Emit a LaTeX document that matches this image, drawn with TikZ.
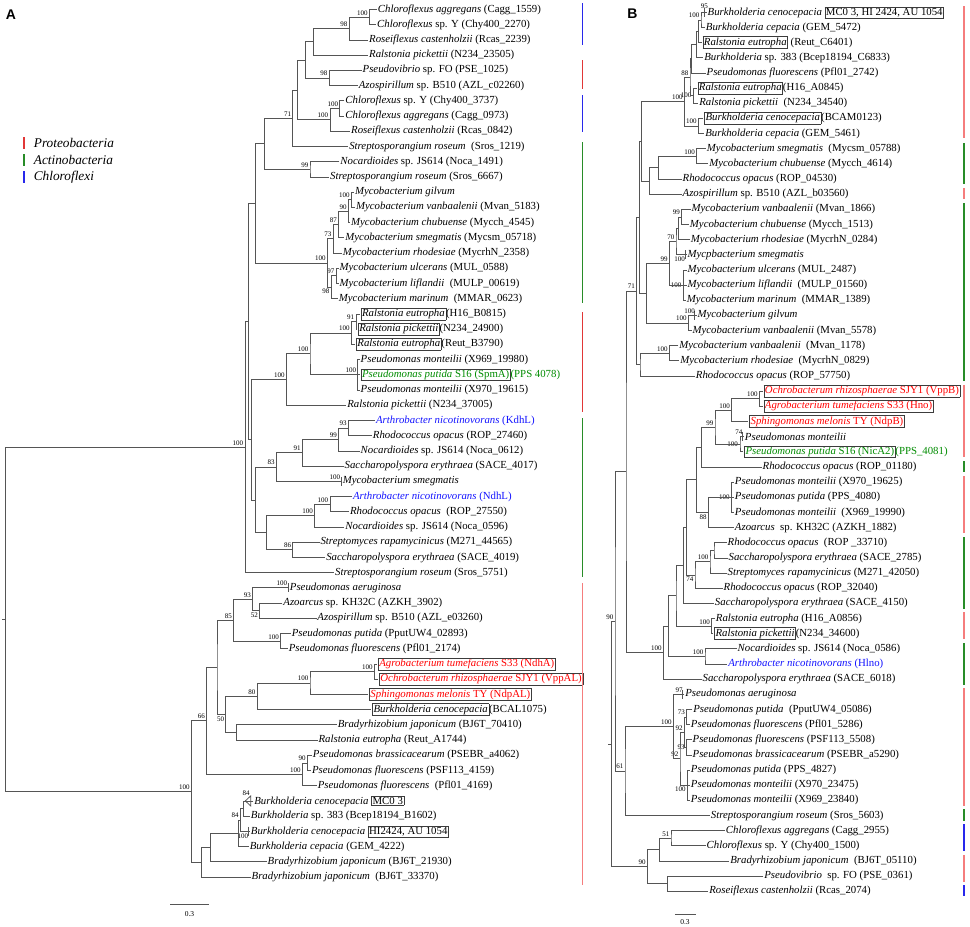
\documentclass[tikz,border=0pt]{standalone}
\usepackage{fontspec}
\setmainfont{Liberation Serif}
\newfontfamily\hdfont{Liberation Sans}
\usetikzlibrary{calc}
\definecolor{brc}{RGB}{85,85,85}
\definecolor{redbar}{RGB}{225,55,55}
\definecolor{pinkbar}{RGB}{245,125,125}
\definecolor{greenbar}{RGB}{40,140,40}
\definecolor{bluebar}{RGB}{40,40,235}
\definecolor{redtxt}{RGB}{255,0,0}
\definecolor{bluetxt}{RGB}{20,20,255}
\definecolor{greentxt}{RGB}{0,140,0}
\definecolor{boxc}{RGB}{60,60,60}
\setlength\fboxsep{0.8pt}
\setlength\fboxrule{0.5pt}
\newcommand\I[1]{\textit{#1}}
\newcommand\bx[1]{\fcolorbox{boxc}{white}{#1}}
\tikzset{
  br/.style={draw=brc, line width=0.75pt},
  lf/.style={anchor=west, inner sep=0.8pt, font=\fontsize{10.8}{12}\selectfont},
  bsl/.style={font=\fontsize{7}{8}\selectfont, inner sep=0.3pt},
  bsa/.style={anchor=south east, xshift=-1.2pt, yshift=1.5pt},
  bsbel/.style={anchor=north east, xshift=-1.2pt, yshift=-1.5pt},
  bsw/.style={anchor=east, xshift=-1.5pt},
  cbar/.style={line width=1.8pt},
  legt/.style={anchor=west, font=\fontsize{13.3}{14}\selectfont\itshape, inner sep=0pt},
}
% leaf of tree A: [style]{index}{x}{text}
\newcommand\lfA[4][]{\coordinate (a#2) at (#3,{9.5+15.22*(#2-1)}); \node[lf,#1] (ta#2) at (a#2) {#4};}
% leaf of tree B
\newcommand\lfB[4][]{\coordinate (b#2) at ({1770+#3},{12.3+15.155*(#2-1)}); \node[lf,#1] (tb#2) at (b#2) {#4};}
% inner node with two children
\newcommand\nd[4]{\path let \p1=(#3),\p2=(#4),\p3=(#2,0) in coordinate (#1) at (\x3,{0.5*(\y1+\y2)});
  \draw[br] (#3) -| (#1) |- (#4);}
% inner node with three children
\newcommand\ndt[5]{\path let \p1=(#4),\p3=(#2,0) in coordinate (#1) at (\x3,\y1);
  \draw[br] (#3) -| (#1) |- (#5); \draw[br] (#1) -- (#4);}
\newcommand\bs[3][bsa]{\node[bsl,#1] at (#2) {#3};}
\newcommand\tk[2]{\draw[br] ([xshift=#2pt,yshift=4.5pt]#1) -- ([xshift=#2pt,yshift=-4.5pt]#1);}
\begin{document}
\begin{tikzpicture}[x=1pt,y=-1pt]
\useasboundingbox (0,0) rectangle (970,927);
\fill[white] (0,0) rectangle (970,927);
\node[font=\hdfont\bfseries\fontsize{14}{14}\selectfont, inner sep=0pt] (labA) at (10.9,14.3) {A};
\node[font=\hdfont\bfseries\fontsize{14}{14}\selectfont, inner sep=0pt] (labB) at (632.5,13.3) {B};
%================ TREE A =================
\begin{scope}[x=0.3827pt]
\lfA{1}{985}{\I{Chloroflexus aggregans} (Cagg\_1559)}
\lfA{2}{983}{\I{Chloroflexus} sp. Y (Chy400\_2270)}
\lfA{3}{962}{\I{Roseiflexus castenholzii} (Rcas\_2239)}
\lfA{4}{962}{\I{Ralstonia pickettii} (N234\_23505)}
\lfA{5}{945}{\I{Pseudovibrio} sp. FO (PSE\_1025)}
\lfA{6}{935}{\I{Azospirillum} sp. B510 (AZL\_c02260)}
\lfA{7}{900}{\I{Chloroflexus} sp. Y (Chy400\_3737)}
\lfA{8}{900}{\I{Chloroflexus aggregans} (Cagg\_0973)}
\lfA{9}{915}{\I{Roseiflexus castenholzii} (Rcas\_0842)}
\lfA{10}{910}{\I{Streptosporangium roseum}\ \ (Sros\_1219)}
\lfA{11}{887}{\I{Nocardioides} sp. JS614 (Noca\_1491)}
\lfA{12}{860}{\I{Streptosporangium roseum} (Sros\_6667)}
\lfA{13}{925}{\I{Mycobacterium gilvum}}
\lfA{14}{928}{\I{Mycobacterium vanbaalenii} (Mvan\_5183)}
\lfA{15}{915}{\I{Mycobacterium chubuense} (Mycch\_4545)}
\lfA{16}{900}{\I{Mycobacterium smegmatis} (Mycsm\_05718)}
\lfA{17}{893}{\I{Mycobacterium rhodesiae} (MycrhN\_2358)}
\lfA{18}{885}{\I{Mycobacterium ulcerans} (MUL\_0588)}
\lfA{19}{885}{\I{Mycobacterium liflandii}\ \ (MULP\_00619)}
\lfA{20}{883}{\I{Mycobacterium marinum}\ \ (MMAR\_0623)}
\lfA{21}{940}{\bx{\I{Ralstonia eutropha}}(H16\_B0815)}
\lfA{22}{933}{\bx{\I{Ralstonia pickettii}}(N234\_24900)}
\lfA{23}{928}{\bx{\I{Ralstonia eutropha}}(Reut\_B3790)}
\lfA{24}{940}{\I{Pseudomonas monteilii} (X969\_19980)}
\lfA[text=greentxt]{25}{940}{\bx{\I{Pseudomonas putida} S16 (SpmA)}(PPS 4078)}
\lfA{26}{940}{\I{Pseudomonas monteilii} (X970\_19615)}
\lfA{27}{905}{\I{Ralstonia pickettii} (N234\_37005)}
\lfA[text=bluetxt]{28}{980}{\I{Arthrobacter nicotinovorans} (KdhL)}
\lfA{29}{972}{\I{Rhodococcus opacus} (ROP\_27460)}
\lfA{30}{940}{\I{Nocardioides} sp. JS614 (Noca\_0612)}
\lfA{31}{898}{\I{Saccharopolyspora erythraea} (SACE\_4017)}
\lfA{32}{893}{\I{Mycobacterium smegmatis}}
\lfA[text=bluetxt]{33}{920}{\I{Arthrobacter nicotinovorans} (NdhL)}
\lfA{34}{912}{\I{Rhodococcus opacus}\ \ (ROP\_27550)}
\lfA{35}{900}{\I{Nocardioides} sp. JS614 (Noca\_0596)}
\lfA{36}{835}{\I{Streptomyces rapamycinicus} (M271\_44565)}
\lfA{37}{850}{\I{Saccharopolyspora erythraea} (SACE\_4019)}
\lfA{38}{873}{\I{Streptosporangium roseum} (Sros\_5751)}
\lfA{39}{755}{\I{Pseudomonas aeruginosa}}
\lfA{40}{738}{\I{Azoarcus} sp. KH32C (AZKH\_3902)}
\lfA{41}{827}{\I{Azospirillum} sp. B510 (AZL\_e03260)}
\lfA{42}{760}{\I{Pseudomonas putida} (PputUW4\_02893)}
\lfA{43}{752}{\I{Pseudomonas fluorescens} (Pfl01\_2174)}
\lfA[text=redtxt]{44}{985}{\bx{\I{Agrobacterium tumefaciens} S33 (NdhA)}}
\lfA[text=redtxt]{45}{988}{\bx{\I{Ochrobacterum rhizosphaerae} SJY1 (VppAL)}}
\lfA[text=redtxt]{46}{962}{\bx{\I{Sphingomonas melonis} TY (NdpAL)}}
\lfA{47}{970}{\bx{\I{Burkholderia cenocepacia}}(BCAL1075)}
\lfA{48}{880}{\I{Bradyrhizobium japonicum} (BJ6T\_70410)}
\lfA{49}{830}{\I{Ralstonia eutropha} (Reut\_A1744)}
\lfA{50}{815}{\I{Pseudomonas brassicacearum} (PSEBR\_a4062)}
\lfA{51}{813}{\I{Pseudomonas fluorescens} (PSF113\_4159)}
\lfA{52}{828}{\I{Pseudomonas fluorescens}\ \ (Pfl01\_4169)}
\lfA{53}{662}{\I{Burkholderia cenocepacia} \bx{MC0 3}}
\lfA{54}{653}{\I{Burkholderia} sp. 383 (Bcep18194\_B1602)}
\lfA{55}{653}{\I{Burkholderia cenocepacia} \bx{HI2424, AU 1054}}
\lfA{56}{650}{\I{Burkholderia cepacia} (GEM\_4222)}
\lfA{57}{697}{\I{Bradyrhizobium japonicum} (BJ6T\_21930)}
\lfA{58}{655}{\I{Bradyrhizobium japonicum}\ \ (BJ6T\_33370)}
% inner nodes
\nd{aC1}{965}{a1}{a2} \bs{aC1}{100}
\nd{aC2}{912}{aC1}{a3} \bs{aC2}{98}
\nd{aC3}{820}{aC2}{a4}
\nd{aC4}{860}{a5}{a6} \bs{aC4}{98}
\nd{aC5}{797}{aC3}{aC4}
\nd{aC6}{888}{a7}{a8} \bs{aC6}{100}
\nd{aC7}{862}{aC6}{a9} \bs{aC7}{100}
\nd{aC8}{777}{aC5}{aC7}
\nd{aC9}{765}{aC8}{a10} \bs{aC9}{71}
\nd{aC11}{810}{a11}{a12} \bs{aC11}{99}
\nd{aC10}{690}{aC9}{aC11}
\nd{aM1}{918}{a13}{a14} \bs{aM1}{100}
\nd{aM2}{910}{aM1}{a15} \bs{aM2}{90}
\nd{aM3}{885}{aM2}{a16} \bs{aM3}{87}
\nd{aM4}{870}{aM3}{a17} \bs{aM4}{73}
\nd{aM5}{878}{a18}{a19} \bs{aM5}{97}
\nd{aM6}{865}{aM5}{a20} \bs[bsbel]{aM6}{98}
\nd{aM7}{855}{aM4}{aM6} \bs{aM7}{100}
\nd{aT}{668}{aC10}{aM7}
\nd{aR1}{930}{a21}{a22} \bs{aR1}{91}
\nd{aR2}{918}{aR1}{a23} \bs{aR2}{100}
\ndt{aP1}{935}{a24}{a25}{a26} \bs{aP1}{100}
\nd{aR3}{810}{aR2}{aP1} \bs{aR3}{100}
\nd{aR4}{748}{aR3}{a27} \bs{aR4}{100}
\nd{aA1}{910}{a28}{a29} \bs{aA1}{93}
\nd{aA2}{885}{aA1}{a30} \bs{aA2}{99}
\nd{aA3}{790}{aA2}{a31} \bs{aA3}{91}
\tk{a32}{-0.8} \bs{a32}{100}
\nd{aA4}{722}{aA3}{a32} \bs{aA4}{83}
\nd{aA5}{862}{a33}{a34} \bs{aA5}{100}
\nd{aA6}{822}{aA5}{a35} \bs{aA6}{100}
\nd{aA7}{765}{a36}{a37} \bs{aA7}{86}
\nd{aA8}{697}{aA6}{aA7}
\nd{aZ}{668}{aA4}{aA8}
\nd{aW}{658}{aR4}{aZ}
\nd{aX}{650}{aT}{aW}
\nd{aU}{640}{aX}{a38} \bs{aU}{100}
\tk{a39}{-0.8} \bs{a39}{100}
\nd{aL1}{678}{a40}{a41} \bs[bsbel]{aL1}{52}
\nd{aL2}{660}{a39}{aL1} \bs{aL2}{93}
\nd{aL4}{733}{a42}{a43} \bs{aL4}{100}
\nd{aL3}{610}{aL2}{aL4} \bs{aL3}{85}
\nd{aK1}{978}{a44}{a45} \bs{aK1}{100}
\nd{aK2}{810}{aK1}{a46} \bs{aK2}{100}
\nd{aK3}{672}{aK2}{a47} \bs{aK3}{80}
\nd{aK4}{617}{a48}{a49}
\nd{aK5}{590}{aK3}{aK4} \bs[bsbel]{aK5}{50}
\nd{aK6}{567}{aL3}{aK5}
\nd{aJ1}{803}{a50}{a51} \bs{aJ1}{90}
\nd{aJ2}{790}{aJ1}{a52} \bs{aJ2}{100}
\nd{aJ3}{540}{aK6}{aJ2} \bs{aJ3}{66}
\draw[br] (641,800.9) -- (655,795.9) -- (655,805.9) -- cycle;
\node[bsl, anchor=south] (bs53) at (643,796) {84};
\nd{aB1}{635}{a53}{a54}
\tk{a55}{-1.5} \bs[bsbel]{a55}{100}
\nd{aB2}{628}{aB1}{a55} \bs{aB2}{84}
\nd{aB3}{622}{aB2}{a56}
\nd{aB4}{550}{aB3}{a57}
\nd{aB5}{527}{aB4}{a58}
\nd{aJ4}{500}{aJ3}{aB5} \bs{aJ4}{100}
\nd{aRoot}{15}{aU}{aJ4}
\draw[br] (aRoot) -- ++(-9,0);
% clade bars
\draw[cbar, bluebar] (1522,3) -- (1522,45);
\draw[cbar, redbar] (1522,60) -- (1522,89);
\draw[cbar, bluebar] (1522,95) -- (1522,132);
\draw[cbar, greenbar] (1522,142) -- (1522,303);
\draw[cbar, redbar] (1522,312) -- (1522,412);
\draw[cbar, greenbar] (1522,418) -- (1522,577);
\draw[cbar, pinkbar] (1522,583) -- (1522,885);
% legend
\draw[cbar, redbar] (62,137) -- (62,149);
\node[legt] (lg1) at (88,142.7) {Proteobacteria};
\draw[cbar, greenbar] (62,154) -- (62,166);
\node[legt] (lg2) at (88,160) {Actinobacteria};
\draw[cbar, bluebar] (62,171) -- (62,183);
\node[legt] (lg3) at (88,177.3) {Chloroflexi};
% scale
\draw[br] (445,904) -- (545,904);
\node[bsl, font=\fontsize{7.5}{8}\selectfont] (scA) at (495,914) {0.3};
\end{scope}
%================ TREE B =================
\begin{scope}[x=0.33333pt]
\lfB{1}{350}{\I{Burkholderia cenocepacia} \bx{MC0 3, HI 2424, AU 1054}}
\lfB{2}{345}{\I{Burkholderia cepacia} (GEM\_5472)}
\lfB{3}{335}{\bx{\I{Ralstonia eutropha}} (Reut\_C6401)}
\lfB{4}{340}{\I{Burkholderia} sp. 383 (Bcep18194\_C6833)}
\lfB{5}{347}{\I{Pseudomonas fluorescens} (Pfl01\_2742)}
\lfB{6}{320}{\bx{\I{Ralstonia eutropha}}(H16\_A0845)}
\lfB{7}{325}{\I{Ralstonia pickettii}\ \ (N234\_34540)}
\lfB{8}{340}{\bx{\I{Burkholderia cenocepacia}}(BCAM0123)}
\lfB{9}{343}{\I{Burkholderia cepacia} (GEM\_5461)}
\lfB{10}{348}{\I{Mycobacterium smegmatis}\ \ (Mycsm\_05788)}
\lfB{11}{355}{\I{Mycobacterium chubuense} (Mycch\_4614)}
\lfB{12}{275}{\I{Rhodococcus opacus} (ROP\_04530)}
\lfB{13}{275}{\I{Azospirillum} sp. B510 (AZL\_b03560)}
\lfB{14}{302}{\I{Mycobacterium vanbaalenii} (Mvan\_1866)}
\lfB{15}{297}{\I{Mycobacterium chubuense} (Mycch\_1513)}
\lfB{16}{300}{\I{Mycobacterium rhodesiae} (MycrhN\_0284)}
\lfB{17}{290}{\I{Mycpbacterium smegmatis}}
\lfB{18}{290}{\I{Mycobacterium ulcerans} (MUL\_2487)}
\lfB{19}{290}{\I{Mycobacterium liflandii}\ \ (MULP\_01560)}
\lfB{20}{288}{\I{Mycobacterium marinum}\ \ (MMAR\_1389)}
\lfB{21}{320}{\I{Mycobacterium gilvum}}
\lfB{22}{305}{\I{Mycobacterium vanbaalenii} (Mvan\_5578)}
\lfB{23}{265}{\I{Mycobacterium vanbaalenii}\ \ (Mvan\_1178)}
\lfB{24}{268}{\I{Mycobacterium rhodesiae}\ \ (MycrhN\_0829)}
\lfB{25}{315}{\I{Rhodococcus opacus} (ROP\_57750)}
\lfB[text=redtxt]{26}{518}{\bx{\I{Ochrobacterum rhizosphaerae} SJY1 (VppB)}}
\lfB[text=redtxt]{27}{518}{\bx{\I{Agrobacterium tumefaciens} S33 (Hno)}}
\lfB[text=redtxt]{28}{475}{\bx{\I{Sphingomonas melonis} TY (NdpB)}}
\lfB{29}{462}{\I{Pseudomonas monteilii}}
\lfB[text=greentxt]{30}{460}{\bx{\I{Pseudomonas putida} S16 (NicA2)}(PPS\_4081)}
\lfB{31}{515}{\I{Rhodococcus opacus} (ROP\_01180)}
\lfB{32}{432}{\I{Pseudomonas monteilii} (X970\_19625)}
\lfB{33}{432}{\I{Pseudomonas putida} (PPS\_4080)}
\lfB{34}{432}{\I{Pseudomonas monteilii}\ \ (X969\_19990)}
\lfB{35}{432}{\I{Azoarcus}\ \ sp. KH32C (AZKH\_1882)}
\lfB{36}{410}{\I{Rhodococcus opacus}\ \ (ROP \_33710)}
\lfB{37}{413}{\I{Saccharopolyspora erythraea} (SACE\_2785)}
\lfB{38}{410}{\I{Streptomyces rapamycinicus} (M271\_42050)}
\lfB{39}{398}{\I{Rhodococcus opacus} (ROP\_32040)}
\lfB{40}{372}{\I{Saccharopolyspora erythraea} (SACE\_4150)}
\lfB{41}{375}{\I{Ralstonia eutropha} (H16\_A0856)}
\lfB{42}{370}{\bx{\I{Ralstonia pickettii}}(N234\_34600)}
\lfB{43}{440}{\I{Nocardioides} sp. JS614 (Noca\_0586)}
\lfB[text=bluetxt]{44}{412}{\I{Arthrobacter nicotinovorans} (Hlno)}
\lfB{45}{335}{\I{Saccharopolyspora erythraea} (SACE\_6018)}
\lfB{46}{283}{\I{Pseudomonas aeruginosa}}
\lfB{47}{307}{\I{Pseudomonas putida}\ \ (PputUW4\_05086)}
\lfB{48}{300}{\I{Pseudomonas fluorescens} (Pfl01\_5286)}
\lfB{49}{305}{\I{Pseudomonas fluorescens} (PSF113\_5508)}
\lfB{50}{305}{\I{Pseudomonas brassicacearum} (PSEBR\_a5290)}
\lfB{51}{300}{\I{Pseudomonas putida} (PPS\_4827)}
\lfB{52}{300}{\I{Pseudomonas monteilii} (X970\_23475)}
\lfB{53}{300}{\I{Pseudomonas monteilii} (X969\_23840)}
\lfB{54}{360}{\I{Streptosporangium roseum} (Sros\_5603)}
\lfB{55}{405}{\I{Chloroflexus aggregans} (Cagg\_2955)}
\lfB{56}{347}{\I{Chloroflexus} sp. Y (Chy400\_1500)}
\lfB{57}{418}{\I{Bradyrhizobium japonicum}\ \ (BJ6T\_05110)}
\lfB{58}{520}{\I{Pseudovibrio}\ \ sp. FO (PSE\_0361)}
\lfB{59}{355}{\I{Roseiflexus castenholzii} (Rcas\_2074)}
% inner nodes
\tk{b1}{-2.3} \node[bsl, anchor=south] (bs1) at ([xshift=-2.3pt,yshift=3pt]b1) {95};
\nd{bPr1}{2103}{b1}{b2} \bs{bPr1}{100}
\nd{bPr2}{2095}{bPr1}{b3}
\nd{bPr3}{2090}{bPr2}{b4}
\nd{bPr4}{2075}{bPr3}{b5}
\nd{bPr6}{2080}{b6}{b7} \bs[bsw]{bPr6}{100}
\nd{bPr5}{2070}{bPr4}{bPr6} \bs{bPr5}{88}
\nd{bPr7}{2095}{b8}{b9} \bs{bPr7}{100}
\nd{bPr8}{2053}{bPr5}{bPr7} \bs{bPr8}{100}
\nd{bMa1}{2090}{b10}{b11} \bs{bMa1}{100}
\nd{bMa2}{1975}{bMa1}{b12}
\nd{bMa3}{1948}{bMa2}{b13}
\nd{bMb1}{2045}{b14}{b15} \bs{bMb1}{99}
\nd{bMb2}{2035}{bMb1}{b16}
\tk{b17}{-1.5} \bs[bsbel]{b17}{100}
\nd{bMb3}{2028}{bMb2}{b17} \bs{bMb3}{70}
\ndt{bMb4}{2050}{b18}{b19}{b20} \bs[bsw]{bMb4}{100}
\nd{bMb5}{2008}{bMb3}{bMb4} \bs{bMb5}{99}
\tk{b21}{-2} \bs{b21}{100}
\nd{bMc1}{2065}{b21}{b22} \bs{bMc1}{100}
\nd{bMc2}{1940}{bMb5}{bMc1}
\nd{bMd1}{2008}{b23}{b24} \bs{bMd1}{100}
\nd{bMd2}{1920}{bMd1}{b25}
\nd{bS1}{1925}{bPr8}{bMa3}
\nd{bS2}{1918}{bS1}{bMc2}
\nd{bS3}{1910}{bS2}{bMd2} \bs{bS3}{71}
\nd{bNe1}{2278}{b26}{b27} \bs{bNe1}{100}
\nd{bNe2}{2195}{bNe1}{b28} \bs{bNe2}{100}
\tk{b29}{-1.5} \bs{b29}{74}
\nd{bNe3}{2220}{b29}{b30} \bs[bsw]{bNe3}{100}
\nd{bNe4}{2145}{bNe2}{bNe3} \bs{bNe4}{99}
\nd{bNe5}{2105}{bNe4}{b31}
\ndt{bNf1}{2195}{b32}{b33}{b34} \bs[bsw]{bNf1}{100}
\nd{bNf2}{2125}{bNf1}{b35} \bs[bsbel]{bNf2}{88}
\nd{bNf3}{2090}{bNe5}{bNf2}
\nd{bNg1}{2142}{b36}{b37}
\nd{bNg2}{2130}{bNg1}{b38} \bs{bNg2}{100}
\nd{bNg3}{2085}{bNg2}{b39} \bs[bsbel]{bNg3}{74}
\nd{bNh}{2060}{bNf3}{bNg3}
\nd{bNi}{2050}{bNh}{b40}
\nd{bNi1}{2135}{b41}{b42} \bs{bNi1}{100}
\nd{bNl}{2028}{bNi}{bNi1}
\nd{bNj1}{2115}{b43}{b44} \bs{bNj1}{100}
\nd{bNn}{2005}{bNl}{bNj1}
\nd{bNk}{1990}{bNn}{b45} \bs{bNk}{100}
\tk{b46}{-1.5} \bs{b46}{97}
\nd{bPo1}{2060}{b47}{b48} \bs{bPo1}{73}
\nd{bPo2}{2060}{b49}{b50} \bs[bsw]{bPo2}{93}
\nd{bPo3}{2053}{bPo1}{bPo2} \bs{bPo3}{92}
\ndt{bPo4}{2062}{b51}{b52}{b53} \bs[bsbel]{bPo4}{100}
\nd{bPo5}{2040}{bPo3}{bPo4} \bs{bPo5}{92}
\nd{bPo6}{2020}{b46}{bPo5} \bs{bPo6}{100}
\nd{bPo7}{1875}{bPo6}{b54} \bs{bPo7}{61}
\nd{bPq1}{2013}{b55}{b56} \bs{bPq1}{51}
\nd{bPq2}{1978}{bPq1}{b57}
\nd{bPq3}{2002}{b58}{b59}
\nd{bPq4}{1942}{bPq2}{bPq3} \bs{bPq4}{90}
\nd{bX}{1878}{bS3}{bNk}
\nd{bN90}{1845}{bX}{bPo7} \bs{bN90}{90}
\nd{bRoot}{1835}{bN90}{bPq4}
\draw[br] (bRoot) -- ++(-10,0);
% clade bars
\draw[cbar, pinkbar] (2892,6) -- (2892,138);
\draw[cbar, greenbar] (2892,143) -- (2892,184);
\draw[cbar, pinkbar] (2892,188) -- (2892,199);
\draw[cbar, greenbar] (2892,203) -- (2892,381);
\draw[cbar, pinkbar] (2892,385) -- (2892,457);
\draw[cbar, greenbar] (2892,461) -- (2892,472);
\draw[cbar, pinkbar] (2892,476) -- (2892,533);
\draw[cbar, greenbar] (2892,537) -- (2892,609);
\draw[cbar, pinkbar] (2892,612) -- (2892,639);
\draw[cbar, greenbar] (2892,643) -- (2892,685);
\draw[cbar, pinkbar] (2892,688) -- (2892,806);
\draw[cbar, greenbar] (2892,809) -- (2892,821);
\draw[cbar, bluebar] (2892,824) -- (2892,851);
\draw[cbar, pinkbar] (2892,855) -- (2892,882);
\draw[cbar, bluebar] (2892,885) -- (2892,896);
% scale
\draw[br] (2025,914) -- (2088,914);
\node[bsl, font=\fontsize{7.5}{8}\selectfont] (scB) at (2055,921.7) {0.3};
\end{scope}
\end{tikzpicture}
\end{document}
